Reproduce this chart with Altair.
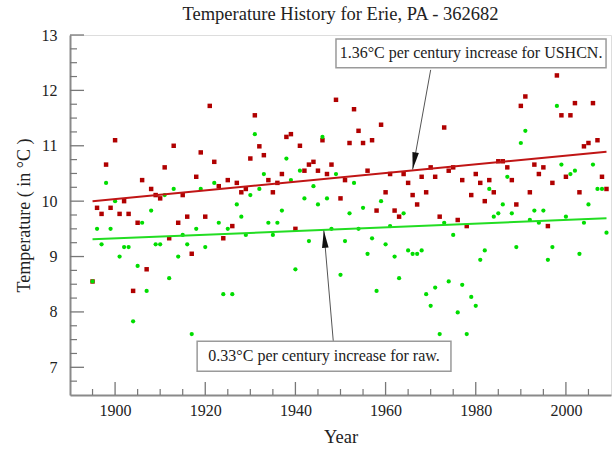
import altair as alt
import pandas as pd

# ---------------- data ----------------
years = list(range(1895, 2010))

ushcn = [
    8.55, 9.88, 9.77, 10.66, 9.88, 11.10, 9.77, 10.00, 9.77, 8.38,   # 1895-1904
    9.61, 10.38, 8.77, 10.22, 10.11, 10.05, 10.61, 9.33, 11.00, 9.61,  # 1905-1914
    10.11, 9.72, 9.05, 10.44, 10.88, 9.72, 11.72, 10.71, 10.27, 9.33,  # 1915-1924
    10.38, 9.55, 10.33, 10.16, 10.22, 10.77, 11.55, 10.99, 10.83, 10.38,  # 1925-1934
    10.16, 10.33, 10.49, 11.16, 11.21, 9.50, 11.00, 10.55, 10.66, 10.71,  # 1935-1944
    10.55, 11.10, 10.49, 10.66, 11.83, 10.05, 10.38, 11.05, 11.66, 11.27,  # 1945-1954
    11.05, 10.55, 11.10, 9.83, 11.38, 10.16, 10.49, 9.83, 9.72, 10.49,  # 1955-1964
    10.33, 10.11, 9.94, 10.44, 10.16, 10.61, 10.44, 9.72, 11.33, 10.55,  # 1965-1974
    10.61, 9.66, 10.38, 9.55, 10.11, 10.49, 10.33, 10.00, 10.38, 10.16,  # 1975-1984
    10.72, 10.72, 10.61, 10.38, 9.94, 11.72, 11.89, 10.16, 10.66, 10.49,  # 1985-1994
    10.61, 9.55, 10.33, 12.27, 11.55, 10.44, 11.55, 11.77, 10.16, 10.99,  # 1995-2004
    11.05, 11.77, 11.10, 10.44, 10.22,                                   # 2005-2009
]

raw = [
    8.55, 9.50, 9.22, 10.33, 9.50, 10.00, 9.00, 9.17, 9.17, 7.83,     # 1895-1904
    8.83, 9.61, 8.38, 9.83, 9.22, 9.22, 10.11, 8.61, 10.22, 9.00,     # 1905-1914
    9.39, 9.22, 7.60, 9.50, 10.22, 9.17, None, 10.33, 9.61, 8.32,     # 1915-1924
    9.50, 8.32, 9.94, 9.72, 9.39, 10.11, 11.21, 10.22, 10.49, 9.61,   # 1925-1934
    9.39, 9.61, 9.83, 10.77, 10.38, 8.77, 10.55, 10.05, 9.28, 10.27,  # 1935-1944
    9.94, 11.16, 10.05, 9.50, 10.49, 8.67, 9.28, 9.78, 10.33, 9.50,   # 1945-1954
    9.88, 9.05, 9.33, 8.38, 10.00, 9.22, 9.55, 9.00, 8.61, 9.78,      # 1955-1964
    9.11, 9.05, 9.05, 9.11, 8.32, 8.11, 8.44, 7.60, 9.61, 8.55,       # 1965-1974
    9.39, 7.99, 8.49, 7.60, 8.27, 8.11, 8.94, 9.11, 10.22, 9.72,      # 1975-1984
    9.78, 9.94, 10.44, 9.78, 9.17, 11.05, 11.27, 9.66, 9.83, 9.61,    # 1985-1994
    9.83, 8.94, 9.17, 11.72, 10.66, 9.72, 10.49, 10.55, 9.05, 9.61,   # 1995-2004
    9.94, 10.66, 10.22, 10.22, 9.43,                                  # 2005-2009
]

trend_years = [1895, 2009]
ushcn_trend = [10.00, 10.89]
raw_trend = [9.31, 9.69]

x_major = [1900, 1920, 1940, 1960, 1980, 2000]
x_minor = [v for v in range(1895, 2010, 5) if v % 20 != 0]
y_major = [7, 8, 9, 10, 11, 12, 13]
y_minor = [q / 4 for q in range(27, 52) if q % 4 != 0]

notes = ["1.36°C per century increase for USHCN.", "0.33°C per century increase for raw."]
box_x1 = [1949.0, 1918.2]
box_x2 = [2008.9, 1974.5]
box_y1 = [12.41, 6.93]
box_y2 = [12.93, 7.47]
arrow_x1 = [1970.0, 1948.4]
arrow_y1 = [12.37, 7.47]
arrow_x2 = [1966.0, 1946.3]
arrow_y2 = [10.57, 9.47]
arrow_angle = [190, 355]

# ---------------- frames ----------------
df_red = pd.DataFrame({"year": years, "temp": ushcn})
df_green = pd.DataFrame({"year": years, "temp": raw}).dropna()
df_tr = pd.DataFrame({"year": trend_years, "red": ushcn_trend, "green": raw_trend})
df_notes = pd.DataFrame({
    "label": notes, "bx1": box_x1, "bx2": box_x2, "by1": box_y1, "by2": box_y2,
    "ax1": arrow_x1, "ay1": arrow_y1, "ax2": arrow_x2, "ay2": arrow_y2, "ang": arrow_angle,
})
df_notes["tx"] = (df_notes["bx1"] + df_notes["bx2"]) / 2
df_notes["ty"] = (df_notes["by1"] + df_notes["by2"]) / 2

SERIF = "Liberation Serif"
W, H = 541, 360
xs = alt.Scale(domain=[1890, 2010], nice=False, zero=False)
ys = alt.Scale(domain=[6.5, 13], nice=False, zero=False)

x_axis = alt.Axis(values=x_major, format="d", ticks=False, grid=False,
                  labelFont=SERIF, labelFontSize=16, labelColor="#222", labelPadding=7,
                  domainColor="#8a8a8a", domainWidth=2,
                  title="Year", titleFont=SERIF, titleFontSize=18.5, titleFontWeight="normal",
                  titleColor="#222", titlePadding=9)
y_axis = alt.Axis(values=y_major, format="d", ticks=False, grid=False,
                  labelFont=SERIF, labelFontSize=16, labelColor="#222", labelPadding=13,
                  domainColor="#8a8a8a", domainWidth=2,
                  title="Temperature ( in °C )", titleFont=SERIF, titleFontSize=18,
                  titleFontWeight="normal", titleColor="#222", titlePadding=8)


def X(field):
    return alt.X(field, scale=xs, axis=x_axis)


def Y(field):
    return alt.Y(field, scale=ys, axis=y_axis)


red_pts = alt.Chart(df_red).mark_square(size=20, color="#b00000", opacity=1).encode(
    x=X("year:Q"), y=Y("temp:Q"))
green_pts = alt.Chart(df_green).mark_circle(size=18, color="#00dd00", opacity=1).encode(
    x=X("year:Q"), y=Y("temp:Q"))
red_line = alt.Chart(df_tr).mark_line(color="#c01515", strokeWidth=2).encode(
    x=X("year:Q"), y=Y("red:Q"))
green_line = alt.Chart(df_tr).mark_line(color="#22dd22", strokeWidth=2).encode(
    x=X("year:Q"), y=Y("green:Q"))

xmaj = alt.Chart(pd.DataFrame({"v": x_major})).mark_rule(color="#777", strokeWidth=1.3).encode(
    x=X("v:Q"), y=alt.value(H), y2=alt.value(H - 13))
xmin = alt.Chart(pd.DataFrame({"v": x_minor})).mark_rule(color="#777", strokeWidth=1.2).encode(
    x=X("v:Q"), y=alt.value(H), y2=alt.value(H - 6))
ymaj = alt.Chart(pd.DataFrame({"v": y_major})).mark_rule(color="#777", strokeWidth=1.3).encode(
    y=Y("v:Q"), x=alt.value(0), x2=alt.value(14))
ymin = alt.Chart(pd.DataFrame({"v": y_minor})).mark_rule(color="#777", strokeWidth=1.2).encode(
    y=Y("v:Q"), x=alt.value(0), x2=alt.value(7))

arrows = alt.Chart(df_notes).mark_rule(color="#555", strokeWidth=1).encode(
    x=X("ax1:Q"), y=Y("ay1:Q"), x2="ax2:Q", y2="ay2:Q")
heads = alt.Chart(df_notes).mark_point(
    shape="M0,0 L-0.38,2 L0.38,2 Z", size=300, filled=True, color="#111", opacity=1
).encode(x=X("ax2:Q"), y=Y("ay2:Q"), angle=alt.Angle("ang:Q", scale=None))
boxes = alt.Chart(df_notes).mark_rect(fill="white", stroke="#9a9a9a", strokeWidth=1.5).encode(
    x=X("bx1:Q"), x2="bx2:Q", y=Y("by1:Q"), y2="by2:Q")
texts = alt.Chart(df_notes).mark_text(font=SERIF, fontSize=16, color="#222").encode(
    x=X("tx:Q"), y=Y("ty:Q"), text="label:N")

chart = alt.layer(
    red_pts, green_pts, red_line, green_line,
    xmaj, xmin, ymaj, ymin, arrows, heads, boxes, texts,
).properties(
    width=W, height=H,
    title=alt.TitleParams("Temperature History for Erie, PA - 362682", font=SERIF,
                          fontSize=18.5, fontWeight="normal", color="#222", offset=4,
                          anchor="middle"),
    autosize=alt.AutoSizeParams(type="none"),
    padding={"left": 70, "top": 35, "right": 1, "bottom": 54},
).configure_view(stroke="#8a8a8a", strokeWidth=1.5).configure(background="white")

chart.save("out.html", embed_options={"renderer": "svg", "actions": False})
